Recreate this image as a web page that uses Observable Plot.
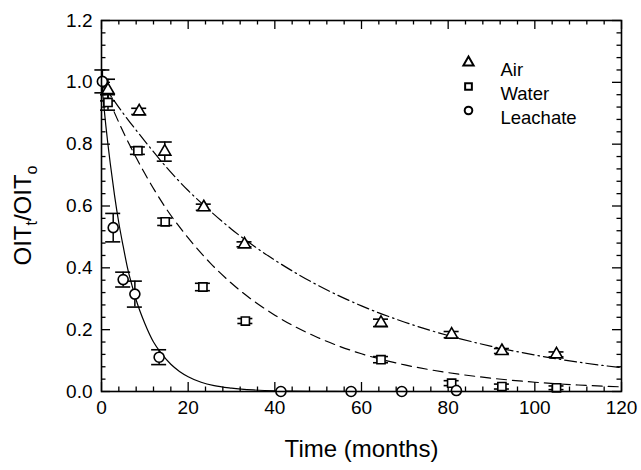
<!DOCTYPE html>
<html><head><meta charset="utf-8">
<script src="https://cdn.jsdelivr.net/npm/d3@7"></script>
<script src="https://cdn.jsdelivr.net/npm/@observablehq/plot@0.6"></script>
<style>html,body{margin:0;padding:0;background:#fff} svg{display:block}</style>
</head><body><div id="chart"></div>
<script>
// measured points (time in months, OITt/OITo, error half-width)
const airT   = [1.5, 8.7, 14.6, 23.6, 33.0, 64.5, 80.8, 92.4, 105.0];
const airV   = [0.975, 0.906, 0.776, 0.596, 0.476, 0.222, 0.184, 0.131, 0.120];
const airE   = [0.035, 0.010, 0.031, 0.010, 0.008, 0.012, 0.010, 0.008, 0.008];
const waterT = [1.5, 8.4, 14.7, 23.4, 33.2, 64.5, 80.8, 92.4, 105.0];
const waterV = [0.935, 0.779, 0.549, 0.338, 0.228, 0.103, 0.027, 0.016, 0.012];
const waterE = [0.025, 0.012, 0.012, 0.012, 0.008, 0.010, 0.008, 0.008, 0.006];
const leachT = [0.2, 2.7, 5.0, 7.7, 13.3, 41.4, 57.6, 69.3, 81.9];
const leachV = [1.003, 0.530, 0.362, 0.315, 0.111, 0.0, 0.0, 0.0, 0.003];
const leachE = [0.037, 0.046, 0.024, 0.042, 0.024, 0, 0, 0, 0];

// fitted curves
const fitAirT   = [0,5,10,15,20,25,30,40,50,60,70,80,90,100,110,120];
const fitAirV   = [1.0,0.90,0.81,0.725,0.65,0.585,0.525,0.425,0.343,0.277,0.224,0.181,0.146,0.118,0.095,0.077];
const fitWaterT = [0,5,10,15,20,25,30,40,50,60,70,80,90,100,110,120];
const fitWaterV = [1.0,0.84,0.705,0.59,0.497,0.417,0.35,0.247,0.174,0.122,0.086,0.061,0.043,0.030,0.021,0.015];
const fitLeachT = [0,1,2,3,4,5,6,7,8,10,12,14,16,18,20,23,26,30,35,40,50,60,80,100,120];
const fitLeachV = [1.0,0.86,0.74,0.635,0.545,0.47,0.40,0.345,0.296,0.22,0.16,0.12,0.088,0.065,0.048,0.030,0.019,0.011,0.005,0.002,0.0005,0,0,0,0];

// axes
const xMajor = [0,20,40,60,80,100,120];
const xMinor = [4,8,12,16,24,28,32,36,44,48,52,56,64,68,72,76,84,88,92,96,104,108,112,116];
const yMajor = [0,0.2,0.4,0.6,0.8,1.0,1.2];
const yMinor = [0.04,0.08,0.12,0.16,0.24,0.28,0.32,0.36,0.44,0.48,0.52,0.56,0.64,0.68,0.72,0.76,0.84,0.88,0.92,0.96,1.04,1.08,1.12,1.16];
const yMajorLabels = ["0.0","0.2","0.4","0.6","0.8","1.0","1.2"];

// legend
const legendNames   = ["Air","Water","Leachate"];
const legendSymbols = ["triangle","square","circle"];

const zip = (T, V, E) => T.map((t, i) => ({t, v: V[i], e: E ? E[i] : 0}));
const air = zip(airT, airV, airE), water = zip(waterT, waterV, waterE), leach = zip(leachT, leachV, leachE);
const fitAir = zip(fitAirT, fitAirV), fitWater = zip(fitWaterT, fitWaterV), fitLeach = zip(fitLeachT, fitLeachV);

const W = 641, H = 470, ML = 101, MR = 20, MT = 20, MB = 79;
const PW = W - ML - MR, PH = H - MT - MB;
const font = "'Liberation Sans', Arial, Helvetica, sans-serif";

function errMarks(data) {
  const d = data.filter(p => p.e > 0);
  return [
    Plot.ruleX(d, {x: "t", y1: p => p.v - p.e, y2: p => p.v + p.e, stroke: "black", strokeWidth: 1.5}),
    Plot.ruleY(d, {y: p => p.v + p.e, x1: "t", x2: "t", insetLeft: -7.5, insetRight: -7.5, stroke: "black", strokeWidth: 1.6}),
    Plot.ruleY(d, {y: p => p.v - p.e, x1: "t", x2: "t", insetLeft: -7.5, insetRight: -7.5, stroke: "black", strokeWidth: 1.6})
  ];
}

const tick = (len) => ({stroke: "black", strokeWidth: 1.3});

const marks = [
  // ticks (inward on all sides)
  Plot.tickX(xMinor, {x: d => d, insetTop: PH - 4.5, ...tick()}),
  Plot.tickX(xMinor, {x: d => d, insetBottom: PH - 4.5, ...tick()}),
  Plot.tickX(xMajor, {x: d => d, insetTop: PH - 9, ...tick()}),
  Plot.tickX(xMajor, {x: d => d, insetBottom: PH - 9, ...tick()}),
  Plot.tickY(yMinor, {y: d => d, insetRight: PW - 4.5, ...tick()}),
  Plot.tickY(yMinor, {y: d => d, insetLeft: PW - 4.5, ...tick()}),
  Plot.tickY(yMajor, {y: d => d, insetRight: PW - 9, ...tick()}),
  Plot.tickY(yMajor, {y: d => d, insetLeft: PW - 9, ...tick()}),
  // fitted curves
  Plot.line(fitAir, {x: "t", y: "v", curve: "monotone-x", stroke: "black", strokeWidth: 1.2, strokeDasharray: "12,4,1.5,4"}),
  Plot.line(fitWater, {x: "t", y: "v", curve: "monotone-x", stroke: "black", strokeWidth: 1.2, strokeDasharray: "10,6"}),
  Plot.line(fitLeach, {x: "t", y: "v", curve: "monotone-x", stroke: "black", strokeWidth: 1.2}),
  // error bars
  ...errMarks(air), ...errMarks(water), ...errMarks(leach),
  // points
  Plot.dot(air, {x: "t", y: "v", symbol: "triangle", r: 4.5, stroke: "black", fill: "white", strokeWidth: 1.6}),
  Plot.dot(water, {x: "t", y: "v", symbol: "square", r: 4.6, stroke: "black", fill: "white", strokeWidth: 1.6}),
  Plot.dot(leach, {x: "t", y: "v", symbol: "circle", r: 5, stroke: "black", fill: "white", strokeWidth: 1.6}),
  // frame
  Plot.frame({stroke: "black", strokeWidth: 1.6}),
  // tick labels
  Plot.text(xMajor, {x: d => d, frameAnchor: "bottom", dy: 22, text: d => String(d), fontSize: 19, fill: "black"}),
  Plot.text(yMajor, {y: d => d, frameAnchor: "left", dx: -9, textAnchor: "end", text: (d, i) => yMajorLabels[i], fontSize: 19, fill: "black"}),
  // x title
  Plot.text(["Time (months)"], {frameAnchor: "bottom", dy: 65, text: d => d, fontSize: 24, fill: "black"}),
  // legend
  ...legendNames.map((name, i) => Plot.dot([name], {frameAnchor: "top-left", dx: 367, dy: 42 + 24 * i, symbol: legendSymbols[i], r: 3.8, stroke: "black", fill: "white", strokeWidth: 2})),
  ...legendNames.map((name, i) => Plot.text([name], {frameAnchor: "top-left", dx: 399, dy: 42 + 24 * i, text: d => d, textAnchor: "start", fontSize: 18.5, fill: "black"}))
];

const chart = Plot.plot({
  width: W, height: H,
  marginLeft: ML, marginRight: MR, marginTop: MT, marginBottom: MB,
  x: {domain: [0, 120], axis: null},
  y: {domain: [0, 1.2], axis: null},
  style: {fontFamily: font, background: "white", color: "black", overflow: "visible"},
  marks
});

// y axis title with subscripts
const svg = d3.select(chart);
const yt = svg.append("text")
  .attr("transform", `translate(31,${MT + PH / 2 + 10}) rotate(-90)`)
  .attr("text-anchor", "middle")
  .attr("font-family", font)
  .attr("font-size", 24)
  .attr("fill", "black");
yt.append("tspan").text("OIT");
yt.append("tspan").attr("font-size", 16).attr("dy", 6).text("t");
yt.append("tspan").attr("dy", -6).text("/OIT");
yt.append("tspan").attr("font-size", 16).attr("dy", 6).text("o");

document.getElementById("chart").appendChild(chart);
</script>
</body></html>
